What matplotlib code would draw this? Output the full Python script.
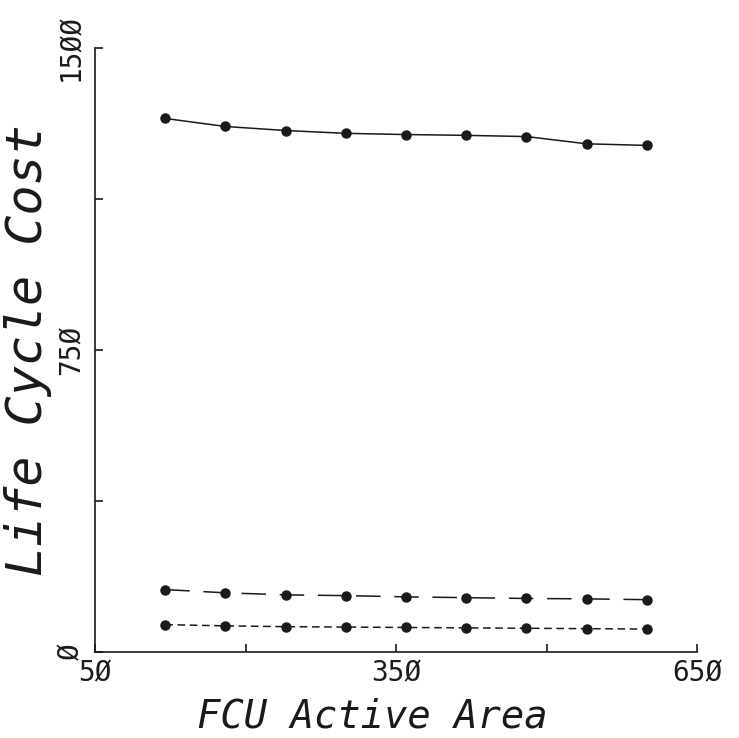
import matplotlib
matplotlib.use("Agg")
import matplotlib.pyplot as plt

# FCU active area vs life cycle cost, three design cases
area = [120, 180, 240, 300, 360, 420, 480, 540, 600]
cost_top = [1325, 1305, 1295, 1288, 1285, 1283, 1280, 1262, 1258]
cost_mid = [155, 147, 142, 140, 137, 135, 133, 132, 130]
cost_low = [68, 65, 63, 62, 61, 60, 59, 58, 57]

x_ticks = [50, 200, 350, 500, 650]
x_labels = ["5Ø", "", "35Ø", "", "65Ø"]
y_ticks = [0, 375, 750, 1125, 1500]
y_labels = ["Ø", "", "75Ø", "", "15ØØ"]

INK = "#1a1a1a"
MONO = "DejaVu Sans Mono"

fig = plt.figure(figsize=(7.39, 7.38), dpi=100)
fig.patch.set_facecolor("white")
ax = fig.add_axes([0.1286, 0.1165, 0.8146, 0.8185])

ax.plot(area, cost_top, color=INK, lw=1.1, marker="o", ms=6.5)
ax.plot(area, cost_mid, color=INK, lw=1.1, marker="o", ms=6.5,
        dashes=(16, 9))
ax.plot(area, cost_low, color=INK, lw=1.1, marker="o", ms=6.5,
        dashes=(5, 3))

ax.set_xlim(50, 650)
ax.set_ylim(0, 1500)

for side in ("top", "right"):
    ax.spines[side].set_visible(False)
for side in ("left", "bottom"):
    ax.spines[side].set_color(INK)
    ax.spines[side].set_linewidth(1.2)

ax.set_xticks(x_ticks)
ax.set_xticklabels(x_labels, fontfamily=MONO, fontsize=20)
ax.set_yticks(y_ticks)
ax.set_yticklabels(y_labels, fontfamily=MONO, fontsize=20,
                   rotation=90, va="center")
ax.tick_params(axis="both", direction="in", length=6, width=1.2,
               color=INK, labelcolor=INK)
ax.tick_params(axis="x", pad=5)
ax.tick_params(axis="y", pad=7)

ax.set_xlabel("FCU Active Area", fontfamily=MONO, fontstyle="oblique",
              fontsize=28, color=INK)
ax.xaxis.set_label_coords(0.46, -0.075)
ax.set_ylabel("Life Cycle Cost", fontfamily=MONO, fontstyle="oblique",
              fontsize=36, color=INK)
ax.yaxis.set_label_coords(-0.072, 0.5)

fig.savefig("out.png", dpi=100, facecolor="white")
